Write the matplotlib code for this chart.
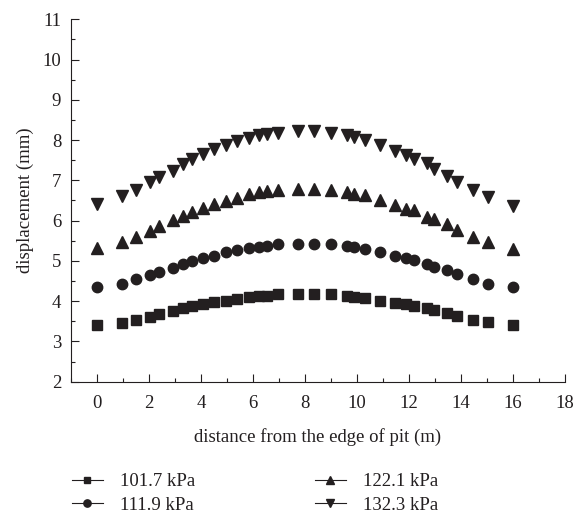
import numpy as np
import matplotlib.pyplot as plt
from matplotlib.ticker import MultipleLocator

plt.rcParams['font.family'] = ['Liberation Serif', 'DejaVu Serif']

# distance from the edge of pit (m)
distance = [0, 0.97, 1.49, 2.03, 2.38, 2.91, 3.31, 3.67, 4.08, 4.5, 4.95, 5.4,
            5.85, 6.22, 6.53, 6.98, 7.73, 8.33, 9.0, 9.6, 9.88, 10.31, 10.9,
            11.47, 11.87, 12.2, 12.7, 12.96, 13.45, 13.86, 14.47, 15.04, 16.0]

# displacement (mm) for each load
d_101 = [3.42, 3.47, 3.52, 3.61, 3.68, 3.76, 3.82, 3.87, 3.93, 3.97, 4.0, 4.06,
         4.11, 4.12, 4.14, 4.17, 4.18, 4.18, 4.17, 4.14, 4.11, 4.08, 4.0,
         3.96, 3.92, 3.88, 3.82, 3.78, 3.71, 3.63, 3.54, 3.48, 3.42]
d_111 = [4.35, 4.43, 4.54, 4.65, 4.73, 4.83, 4.92, 5.0, 5.07, 5.12, 5.21, 5.27,
         5.32, 5.35, 5.37, 5.42, 5.43, 5.43, 5.42, 5.37, 5.35, 5.29, 5.22,
         5.12, 5.06, 5.02, 4.92, 4.86, 4.77, 4.67, 4.54, 4.43, 4.35]
d_122 = [5.31, 5.48, 5.6, 5.75, 5.86, 6.02, 6.12, 6.21, 6.32, 6.42, 6.48, 6.57,
         6.65, 6.71, 6.73, 6.77, 6.79, 6.79, 6.75, 6.71, 6.67, 6.63, 6.5,
         6.4, 6.29, 6.27, 6.08, 6.04, 5.92, 5.77, 5.6, 5.47, 5.29]
d_132 = [6.42, 6.6, 6.77, 6.95, 7.08, 7.23, 7.4, 7.52, 7.65, 7.77, 7.88, 7.98,
         8.04, 8.12, 8.15, 8.18, 8.23, 8.23, 8.17, 8.12, 8.08, 8.0, 7.88,
         7.73, 7.62, 7.54, 7.42, 7.29, 7.12, 6.96, 6.75, 6.58, 6.37]

labels = ['101.7 kPa', '111.9 kPa', '122.1 kPa', '132.3 kPa']
series = [d_101, d_111, d_122, d_132]
markers = ['s', 'o', '^', 'v']
sizes = [6.5, 7.5, 8.5, 8.5]

fig = plt.figure(figsize=(5.76, 5.17), dpi=100)
ax = fig.add_axes([0.123, 0.2617, 0.858, 0.701])

handles = []
for y, m, ms, lab in zip(series, markers, sizes, labels):
    ax.plot(distance, y, linestyle='none', marker=m, markersize=ms,
            color='#231f20')
    # legend handle: short line through a small marker
    h, = ax.plot([], [], linestyle='-', linewidth=0.8, marker=m,
                 markersize=ms * 0.7, color='#231f20', label=lab)
    handles.append(h)

ax.set_xlim(-1, 18)
ax.set_ylim(2, 11)
ax.xaxis.set_major_locator(MultipleLocator(2))
ax.xaxis.set_minor_locator(MultipleLocator(1))
ax.yaxis.set_major_locator(MultipleLocator(1))
ax.yaxis.set_minor_locator(MultipleLocator(0.5))
ax.tick_params(which='both', direction='in', labelsize=13.5, width=0.8,
               color='#231f20', labelcolor='#231f20')
ax.tick_params(which='major', length=5.5, pad=9.5)
ax.tick_params(which='minor', length=3)
ax.tick_params(axis='y', which='major', pad=7)
ax.spines['top'].set_visible(False)
ax.spines['right'].set_visible(False)
for s in ['left', 'bottom']:
    ax.spines[s].set_linewidth(0.8)
    ax.spines[s].set_color('#231f20')

ax.set_xlabel('distance from the edge of pit (m)', fontsize=13.5,
              color='#231f20', labelpad=12)
ax.set_ylabel('displacement (mm)', fontsize=13.5, color='#231f20',
              labelpad=6)

fig.legend(handles=handles, ncol=2, frameon=False, fontsize=13.5,
           loc='upper left', bbox_to_anchor=(0.1245, 0.085), borderpad=0,
           borderaxespad=0, handlelength=1.65, handletextpad=0.9,
           columnspacing=6.4, labelspacing=0.35, labelcolor='#231f20')

fig.savefig('out.png', dpi=100)
